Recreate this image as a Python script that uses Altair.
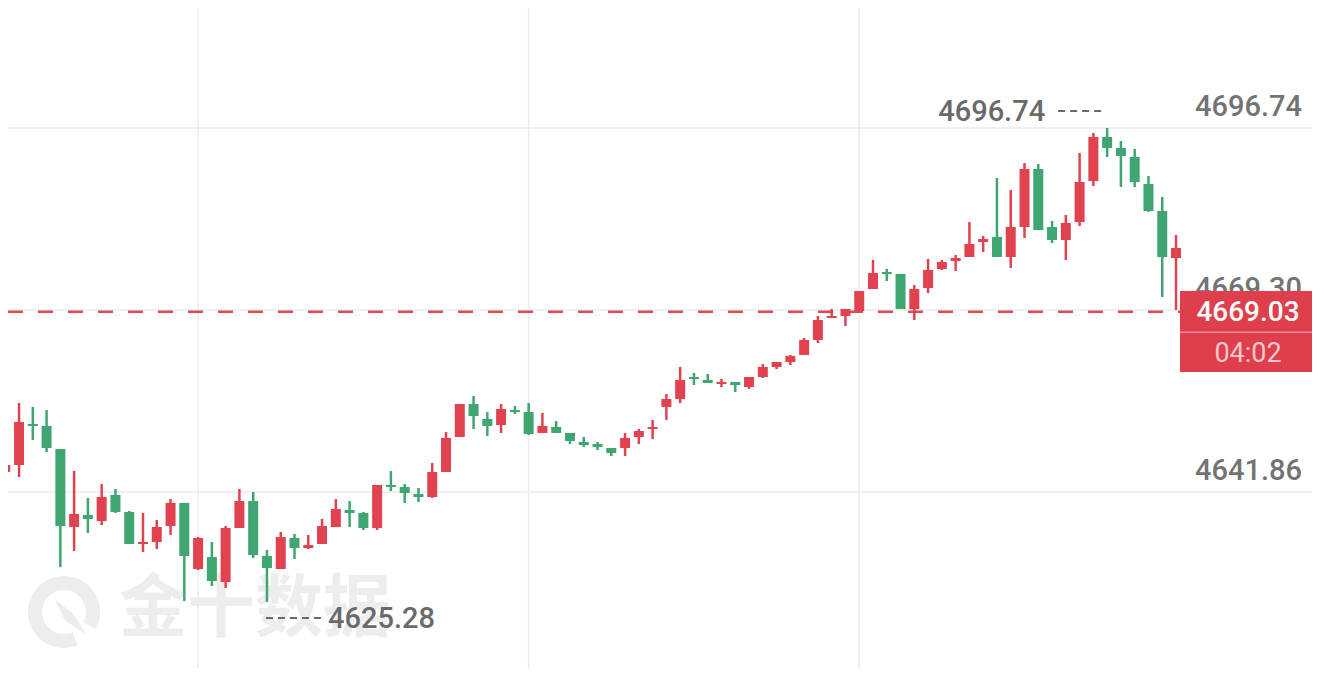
import altair as alt
import pandas as pd

# ---- data ----
opens = [4644.88, 4645.93, 4652.11, 4651.81, 4648.34, 4636.58, 4638.39, 4637.49, 4641.41, 4638.84,
         4634.02, 4634.32, 4636.73, 4640.20, 4630.25, 4632.06, 4628.29, 4636.43, 4640.50, 4632.21,
         4630.25, 4634.92, 4633.42, 4634.02, 4636.58, 4639.15, 4638.69, 4636.43, 4642.92, 4642.61,
         4641.56, 4641.11, 4644.88, 4650.15, 4655.13, 4652.87, 4651.96, 4654.22, 4653.92, 4650.76,
         4651.66, 4650.76, 4649.40, 4649.10, 4648.49, 4648.49, 4650.15, 4651.36, 4654.68, 4655.88,
         4659.20, 4658.75, 4658.14, 4658.44, 4657.69, 4659.20, 4660.71, 4661.46, 4662.52, 4664.78,
         4668.09, 4668.40, 4669.15, 4672.47, 4675.03, 4674.73, 4669.45, 4672.62, 4675.48, 4676.69,
         4677.29, 4679.55, 4680.31, 4677.29, 4681.81, 4690.56, 4681.81, 4679.85, 4682.57, 4688.75,
         4695.38, 4693.72, 4692.37, 4688.30, 4684.23, 4677.14]
highs = [4645.93, 4655.28, 4654.68, 4654.22, 4648.34, 4645.03, 4640.96, 4643.07, 4642.31, 4639.00,
         4638.69, 4637.64, 4640.80, 4640.20, 4635.08, 4634.32, 4636.73, 4642.31, 4641.86, 4633.12,
         4635.83, 4635.53, 4635.38, 4637.79, 4640.80, 4640.50, 4638.84, 4642.92, 4645.03, 4643.07,
         4642.46, 4646.23, 4650.91, 4655.13, 4656.33, 4653.92, 4655.13, 4654.83, 4655.28, 4653.77,
         4652.56, 4650.76, 4650.15, 4649.40, 4648.49, 4650.76, 4651.36, 4652.72, 4656.64, 4660.71,
         4659.80, 4659.65, 4658.90, 4658.44, 4659.20, 4661.16, 4661.46, 4662.52, 4665.08, 4668.40,
         4669.45, 4669.45, 4672.16, 4676.84, 4675.48, 4674.73, 4673.07, 4676.99, 4676.84, 4677.59,
         4682.57, 4680.46, 4689.20, 4687.39, 4691.46, 4691.31, 4682.72, 4683.62, 4692.97, 4695.99,
         4696.74, 4694.78, 4693.57, 4689.50, 4686.34, 4680.61]
lows = [4644.88, 4644.12, 4649.70, 4647.89, 4630.55, 4632.96, 4635.68, 4636.88, 4638.69, 4634.02,
        4632.81, 4633.27, 4635.38, 4625.43, 4630.10, 4627.69, 4627.39, 4636.43, 4631.91, 4625.28,
        4630.25, 4631.76, 4633.27, 4634.02, 4636.58, 4636.58, 4636.13, 4636.13, 4642.01, 4640.20,
        4640.35, 4640.96, 4644.88, 4650.15, 4651.36, 4650.30, 4650.76, 4653.62, 4650.45, 4650.76,
        4650.76, 4649.10, 4648.64, 4648.19, 4647.29, 4647.29, 4649.10, 4649.85, 4652.72, 4655.28,
        4657.99, 4658.29, 4657.69, 4656.94, 4657.39, 4659.05, 4660.40, 4661.01, 4662.52, 4664.32,
        4668.09, 4666.89, 4669.15, 4672.47, 4673.67, 4669.45, 4667.79, 4671.86, 4675.33, 4675.18,
        4677.29, 4678.04, 4677.29, 4675.63, 4680.16, 4681.36, 4679.40, 4676.84, 4681.96, 4688.00,
        4692.37, 4687.84, 4687.84, 4684.08, 4671.26, 4669.30]
closes = [4645.93, 4652.41, 4651.81, 4648.49, 4636.73, 4638.54, 4637.79, 4641.11, 4638.84, 4634.02,
          4634.32, 4636.58, 4640.20, 4632.21, 4634.92, 4628.44, 4636.43, 4640.50, 4632.36, 4630.40,
          4635.08, 4633.42, 4633.87, 4636.73, 4639.30, 4638.69, 4636.43, 4642.92, 4642.61, 4641.71,
          4641.11, 4644.88, 4650.00, 4655.13, 4653.32, 4651.81, 4654.37, 4653.92, 4650.60, 4651.81,
          4650.76, 4649.55, 4648.95, 4648.64, 4647.74, 4650.00, 4651.06, 4651.66, 4655.88, 4658.75,
          4658.90, 4658.29, 4658.44, 4657.99, 4659.20, 4660.71, 4661.46, 4662.36, 4664.78, 4667.79,
          4668.40, 4669.45, 4672.16, 4674.88, 4674.73, 4669.45, 4672.47, 4675.33, 4676.54, 4677.14,
          4679.25, 4680.00, 4677.29, 4681.81, 4690.56, 4681.36, 4679.85, 4682.42, 4688.60, 4695.38,
          4693.72, 4692.52, 4688.60, 4684.23, 4677.29, 4678.65]
idx = list(range(len(opens)))

grid_prices = [4696.74, 4669.30, 4641.86]
grid_labels = ["4696.74", "4669.30", "4641.86"]
grid_idx = [14, 38, 62]
last_price = [4669.03]
last_label = ["4669.03"]
countdown = ["04:02"]
watermark = ["金十数据"]

RED = "#e0434f"
GREEN = "#3fa571"
GRID = "#ebebeb"
LABEL = "#737373"
WM = "#ededed"

W, H = 1304, 660

df = pd.DataFrame({"i": idx, "open": opens, "high": highs, "low": lows, "close": closes})
xs = alt.Scale(domain=[0.562, 94.51], nice=False, zero=False)
ys = alt.Scale(domain=[4615.325, 4714.832], nice=False, zero=False)


def Xq(f="i"):
    return alt.X(f"{f}:Q", scale=xs, axis=None)


def Yq(f="price"):
    return alt.Y(f"{f}:Q", scale=ys, axis=None)


updown = alt.condition("datum.close >= datum.open", alt.value(RED), alt.value(GREEN))

# watermark
wm_df = pd.DataFrame({"t": watermark})
wm_text = alt.Chart(wm_df).mark_text(
    font="Noto Sans CJK SC", fontSize=68, fontWeight="bold", color=WM,
    align="center", baseline="middle"
).encode(x=alt.value(247), y=alt.value(603), text="t:N")
wm_ring = alt.Chart(wm_df).mark_arc(
    theta=2.75, theta2=8.35, radius=36, radius2=22, color=WM
).encode(x=alt.value(56), y=alt.value(604))
wm_needle = alt.Chart(wm_df).mark_point(
    shape="M -0.7 -0.9 L 0.25 -0.15 L 1 1 L -0.15 0.25 Z", filled=True, size=1400,
    color=WM, opacity=1
).encode(x=alt.value(60), y=alt.value(608))

# grid
hg_df = pd.DataFrame({"price": grid_prices, "label": grid_labels})
vg_df = pd.DataFrame({"i": grid_idx})
hgrid = alt.Chart(hg_df).mark_rule(color=GRID, strokeWidth=1.5).encode(
    y=Yq(), x=alt.value(0), x2=alt.value(W))
vgrid = alt.Chart(vg_df).mark_rule(color=GRID, strokeWidth=1.5).encode(
    x=Xq(), y=alt.value(0), y2=alt.value(H))

# current price line
lp_df = pd.DataFrame({"price": last_price, "label": last_label, "cd": countdown})
pline = alt.Chart(lp_df).mark_rule(color="#dd4a56", strokeWidth=2.5, strokeDash=[15, 15]).encode(
    y=Yq(), x=alt.value(0), x2=alt.value(1172))

# candles
wicks = alt.Chart(df).mark_rule(strokeWidth=2.5).encode(
    x=Xq(), y=Yq("low"), y2="high:Q", color=updown)
bodies = alt.Chart(df).mark_bar(size=10).encode(
    x=Xq(), y=Yq("open"), y2="close:Q", color=updown)

# right axis labels
axis_text = alt.Chart(hg_df).mark_text(
    font="Roboto", fontSize=29, fontWeight=500, color=LABEL, align="right", baseline="middle", dy=-21
).encode(x=alt.value(1294), y=Yq(), text="label:N")

# max / min annotations
imax = int(df["high"].idxmax())
imin = int(df["low"].idxmin())
mx_df = pd.DataFrame({"i": [imax], "price": [df["high"][imax]]})
mx_df["label"] = mx_df["price"].map(lambda v: f"{v:.2f}")
mn_df = pd.DataFrame({"i": [imin], "price": [df["low"][imin]]})
mn_df["label"] = mn_df["price"].map(lambda v: f"{v:.2f}")

mx_rule = alt.Chart(mx_df).mark_rule(
    color="#6a6a6a", strokeWidth=2, strokeDash=[7, 5], xOffset=-49, x2Offset=-6, yOffset=-17
).encode(x=Xq(), x2="i:Q", y=Yq())
mx_text = alt.Chart(mx_df).mark_text(
    font="Roboto", fontSize=29, fontWeight=500, color="#6a6a6a", align="right", baseline="middle",
    dx=-62, dy=-15.5
).encode(x=Xq(), y=Yq(), text="label:N")
mn_rule = alt.Chart(mn_df).mark_rule(
    color="#6a6a6a", strokeWidth=2, strokeDash=[7, 5], xOffset=-1, x2Offset=54, yOffset=16
).encode(x=Xq(), x2="i:Q", y=Yq())
mn_text = alt.Chart(mn_df).mark_text(
    font="Roboto", fontSize=29, fontWeight=500, color="#6a6a6a", align="left", baseline="middle",
    dx=61, dy=17.5
).encode(x=Xq(), y=Yq(), text="label:N")

# current price box
box = alt.Chart(lp_df).mark_rect(color="#df3f4c", yOffset=-20.7, y2Offset=60.3).encode(
    y=Yq(), y2="price:Q", x=alt.value(1172), x2=alt.value(W))
sep = alt.Chart(lp_df).mark_rule(color="#f28f98", strokeWidth=1.5, yOffset=20.5).encode(
    y=Yq(), x=alt.value(1172), x2=alt.value(W))
box_price = alt.Chart(lp_df).mark_text(
    font="Roboto", fontSize=28, fontWeight=500, color="white", align="center",
    baseline="middle", dy=1.5
).encode(x=alt.value(1240), y=Yq(), text="label:N")
box_cd = alt.Chart(lp_df).mark_text(
    font="Roboto", fontSize=27, color="#f9c9ce", align="center", baseline="middle", dy=42
).encode(x=alt.value(1240), y=Yq(), text="cd:N")

chart = alt.layer(
    wm_ring, wm_needle, wm_text, hgrid, vgrid, pline, wicks, bodies,
    axis_text, mx_rule, mx_text, mn_rule, mn_text, box, sep, box_price, box_cd
).properties(
    width=W, height=H, padding=0, autosize="none", background="white"
).configure_view(stroke=None)

chart.save("out.html", embed_options={"renderer": "svg", "actions": False})
